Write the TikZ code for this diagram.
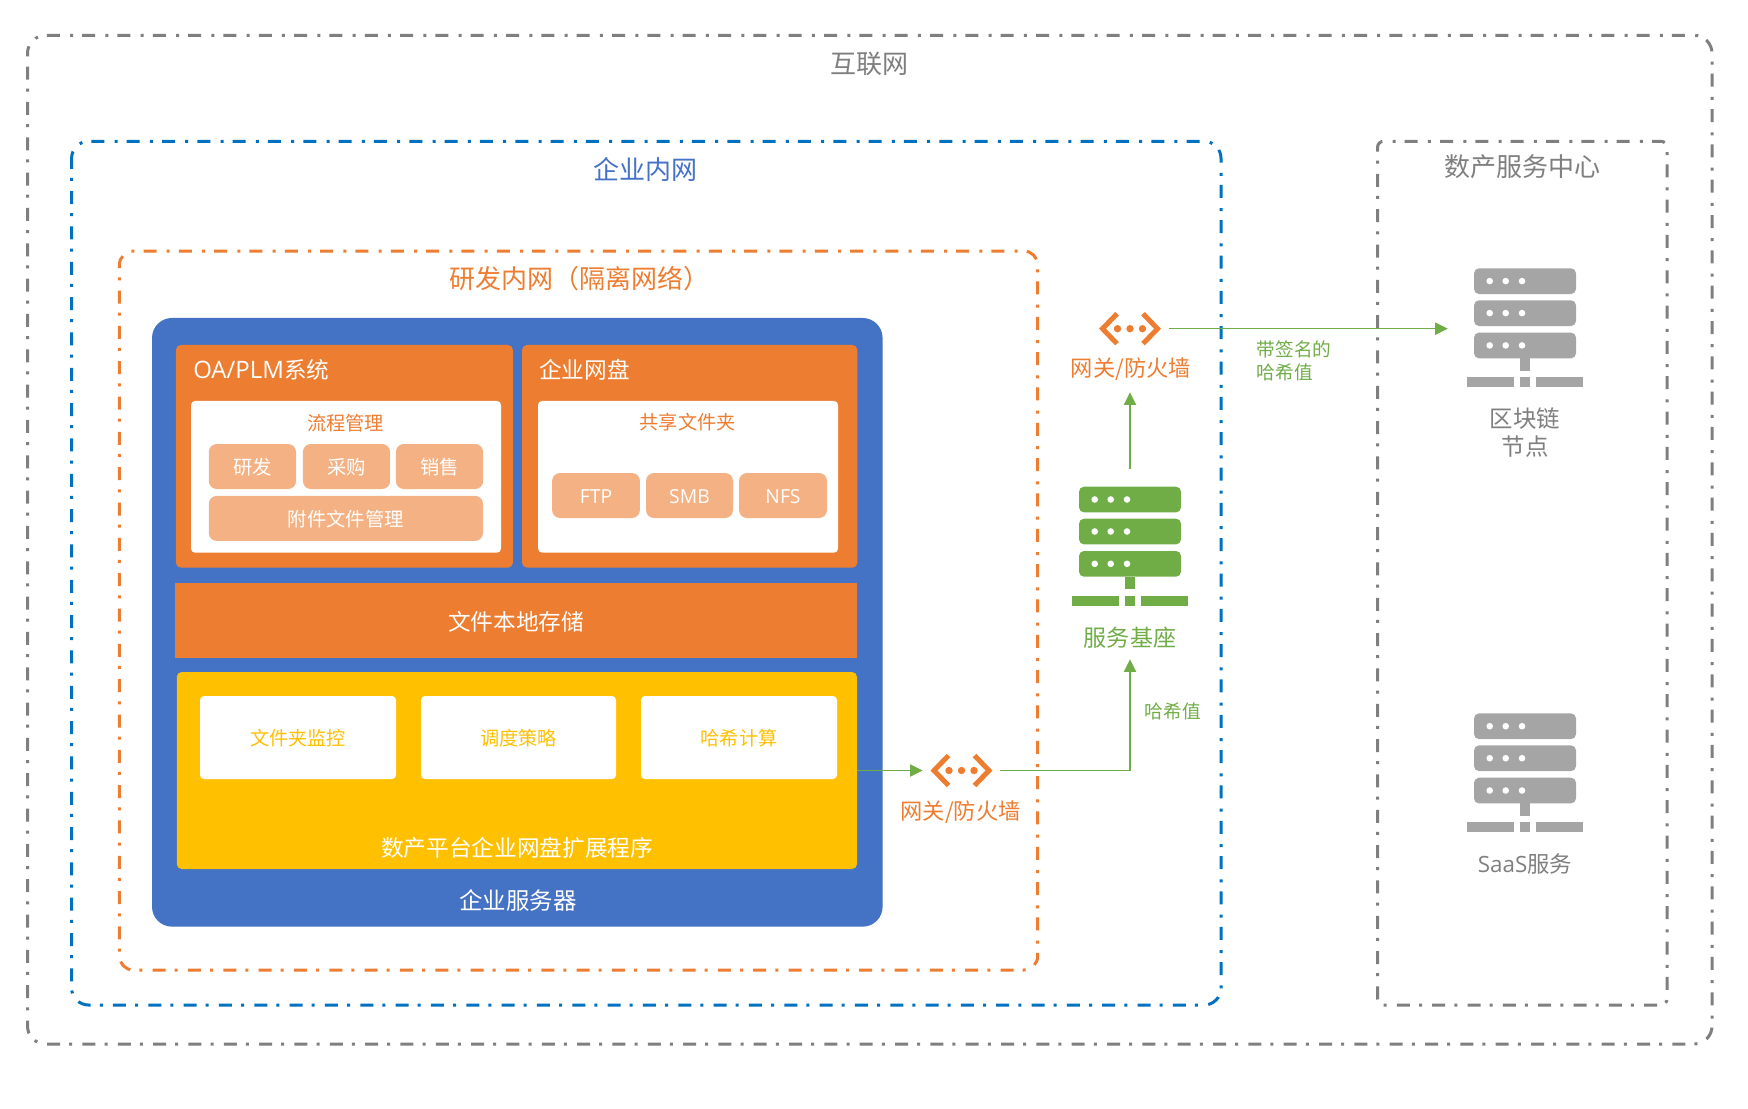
\documentclass[tikz,border=0pt]{standalone}
\usepackage{fontspec}
\usetikzlibrary{arrows.meta}
\setmainfont{Noto Sans CJK SC}
\newfontfamily\latf{Open Sans}
\def\px{0.75pt}

\definecolor{lineblue}{HTML}{0070C0}
\definecolor{srvblue}{HTML}{4472C4}
\definecolor{boxorange}{HTML}{ED7D31}
\definecolor{suborange}{HTML}{F4B183}
\definecolor{extyellow}{HTML}{FFC000}
\definecolor{flowgreen}{HTML}{70AD47}
\definecolor{framegray}{HTML}{7F7F7F}
\definecolor{srvgray}{HTML}{A5A5A5}

\tikzset{
  frame/.style={draw=#1, line width=3*\px,
    dash pattern=on 13*\px off 9.1*\px on 3*\px off 10.23*\px},
  outerbox/.style={fill=#1, rounded corners=5*\px, inner sep=0pt, text=white},
  subbox/.style={fill=suborange, rounded corners=8*\px, inner sep=0pt, text=white,
    minimum height=45*\px, text height=13.5pt, text depth=1.2pt,
    font=\fontsize{14.5}{17}\selectfont},
  whitebox/.style={fill=white, rounded corners=4*\px, inner sep=0pt},
  nettitle/.style={inner sep=0pt, font=\fontsize{19.5}{23}\selectfont},
  boxtitle/.style={inner sep=0pt, text=white, font=\fontsize{17}{20}\selectfont},
  smalltitle/.style={inner sep=0pt, font=\fontsize{14.4}{17}\selectfont},
  gatelabel/.style={inner sep=0pt, text=boxorange, minimum height=46*\px,
    font=\fontsize{16.7}{20}\selectfont},
  flowlabel/.style={inner sep=0pt, text=flowgreen, anchor=west, align=left,
    font=\fontsize{14}{17}\selectfont},
  gatenode/.style={inner sep=0pt, minimum width=77*\px, minimum height=36*\px},
  srvnode/.style={inner sep=0pt, minimum width=154*\px, minimum height=154*\px},
  flow/.style={draw=flowgreen, line width=1.2*\px,
    -{Triangle[length=9.5pt,width=9.2pt]}},
  pics/gateicon/.style={code={
    \draw[boxorange, line width=5*\px, miter limit=10] (-13,-15) -- (-27.5,0) -- (-13,15);
    \draw[boxorange, line width=5*\px, miter limit=10] (13,-15) -- (27.5,0) -- (13,15);
    \foreach \x in {-12.5,0,12.5} {
      \fill[boxorange] (\x,0) circle (3.7*\px);
    }
  }},
  pics/srvicon/.style={code={
    \foreach \y in {-59.3,-27.3,5} {
      \fill[#1, rounded corners=5*\px] (-51,\y) rectangle (51,\y+25.7);
      \foreach \x in {-35.3,-19.3,-3} {
        \fill[white] (\x,\y+12.8) circle (3.3*\px);
      }
    }
    \fill[#1] (-4.7,30.7) rectangle (4.7,43);
    \fill[#1] (-58,49.7) rectangle (-11,59.7);
    \fill[#1] (-4.7,49.7) rectangle (4.7,59.7);
    \fill[#1] (11,49.7) rectangle (58,59.7);
  }}
}

\begin{document}
\begin{tikzpicture}[x=\px, y=-\px]
\useasboundingbox (0,0) rectangle (1748,1108);

% network frames
\draw[frame=framegray, dash phase=22*\px, rounded corners=18*\px] (27.5,35.3) rectangle (1712,1044);
\draw[frame=lineblue, dash phase=2.5*\px, rounded corners=17*\px] (71.6,141.3) rectangle (1221,1005);
\draw[frame=boxorange, dash phase=9.8*\px, rounded corners=14*\px] (119.4,251) rectangle (1037.7,970);
\draw[frame=framegray, dash phase=8.8*\px, rounded corners=6*\px] (1377.5,141.3) rectangle (1667,1005);

\node[nettitle, text=framegray] (inettitle) at (869.5,64) {互联网};
\node[nettitle, text=srvblue] (corptitle) at (645.6,170) {企业内网};
\node[nettitle, text=boxorange] (rdtitle) at (579,279) {研发内网（隔离网络）};
\node[nettitle, text=framegray] (dctitle) at (1522.5,167) {数产服务中心};

% enterprise server
\node[outerbox=srvblue, rounded corners=20*\px, minimum width=730.6*\px, minimum height=608.7*\px]
  (server) at (517.3,622.3) {};
\node[boxtitle, font=\fontsize{17.6}{21}\selectfont] (servertitle) at (518,900.7) {企业服务器};

% OA/PLM
\node[outerbox=boxorange, minimum width=337*\px, minimum height=222.7*\px] (oabox) at (344.4,456.3) {};
\node[boxtitle, anchor=west] (oatitle) at (193,370) {{\fontsize{18}{20}\selectfont\latf OA/PLM}系统};
\node[whitebox, minimum width=310*\px, minimum height=151.7*\px] (oawhite) at (346,476.8) {};
\node[smalltitle, text=boxorange] (flowtitle) at (345.5,422.7) {流程管理};
\node[subbox, minimum width=87.2*\px] (yanfa) at (252.4,466.5) {研发};
\node[subbox, minimum width=87.2*\px] (caigou) at (346.5,466.5) {采购};
\node[subbox, minimum width=87.2*\px] (xiaoshou) at (439.5,466.5) {销售};
\node[subbox, minimum width=274.2*\px] (fujian) at (345.9,518.4) {附件文件管理};

% enterprise disk
\node[outerbox=boxorange, minimum width=335.4*\px, minimum height=222.7*\px] (diskbox) at (689.7,456.3) {};
\node[boxtitle, anchor=west] (disktitle) at (539,370) {企业网盘};
\node[whitebox, minimum width=300*\px, minimum height=151.7*\px] (diskwhite) at (688,476.8) {};
\node[smalltitle, text=boxorange] (sharetitle) at (687.7,421.7) {共享文件夹};
\node[subbox, minimum width=87.8*\px] (ftp) at (596,495.5) {\latf FTP};
\node[subbox, minimum width=87*\px] (smb) at (689.5,495.5) {\latf SMB};
\node[subbox, minimum width=88*\px] (nfs) at (783,495.5) {\latf NFS};

% local storage
\node[outerbox=boxorange, rounded corners=0pt, minimum width=682*\px, minimum height=74.7*\px,
  text height=15.9pt, text depth=1.5pt, font=\fontsize{17}{20}\selectfont] (storage) at (516,620.4) {文件本地存储};

% extension
\node[outerbox=extyellow, minimum width=680.3*\px, minimum height=197*\px] (extbox) at (516.9,770.5) {};
\node[whitebox, text=extyellow, text height=13.5pt, text depth=1.2pt, font=\fontsize{14.4}{17}\selectfont,
  minimum width=196*\px, minimum height=83*\px] (monitor) at (298,737.5) {文件夹监控};
\node[whitebox, text=extyellow, text height=13.5pt, text depth=1.2pt, font=\fontsize{14.4}{17}\selectfont,
  minimum width=195*\px, minimum height=83*\px] (sched) at (518.5,737.5) {调度策略};
\node[whitebox, text=extyellow, text height=13.5pt, text depth=1.2pt, font=\fontsize{14.4}{17}\selectfont,
  minimum width=196*\px, minimum height=83*\px] (hashcalc) at (739,737.5) {哈希计算};
\node[boxtitle] (exttitle) at (517,848) {数产平台企业网盘扩展程序};

% gateways
\node[gatenode] (gatea) at (961.5,770.5) {};
\pic at (gatea) {gateicon};
\node[gatelabel] (gatealabel) at (960.5,812) {网关/防火墙};
\node[gatenode] (gateb) at (1130,328.7) {};
\pic at (gateb) {gateicon};
\node[gatelabel] (gateblabel) at (1131,369) {网关/防火墙};

% servers
\node[srvnode] (base) at (1130,546) {};
\pic at (base) {srvicon=flowgreen};
\node[inner sep=0pt, text=flowgreen, minimum height=42*\px, font=\fontsize{17.3}{21}\selectfont]
  (baselabel) at (1130,638) {服务基座};
\node[srvnode] (chain) at (1525,327.6) {};
\pic at (chain) {srvicon=srvgray};
\node[inner sep=0pt, text=framegray, align=center, font=\fontsize{17.6}{21}\selectfont]
  (chainlabel) at (1525,433) {区块链\\节点};
\node[srvnode] (saas) at (1525,772.7) {};
\pic at (saas) {srvicon=srvgray};
\node[inner sep=0pt, text=framegray, font=\fontsize{16.8}{21}\selectfont]
  (saaslabel) at (1525,864) {{\latf SaaS}服务};

% connectors
\draw[flow] (extbox.east) -- (gatea.west);
\draw[flow] (gatea.east) -| (baselabel.south);
\draw[flow] (base.north) -- (base.north |- gateblabel.south);
\draw[flow] (gateb.east) -- (gateb.east -| chain.west);

\node[flowlabel] (hashlabel) at (1144.5,711) {哈希值};
\node[flowlabel] (signlabel) at (1256.7,361) {带签名的\\哈希值};
\end{tikzpicture}
\end{document}
